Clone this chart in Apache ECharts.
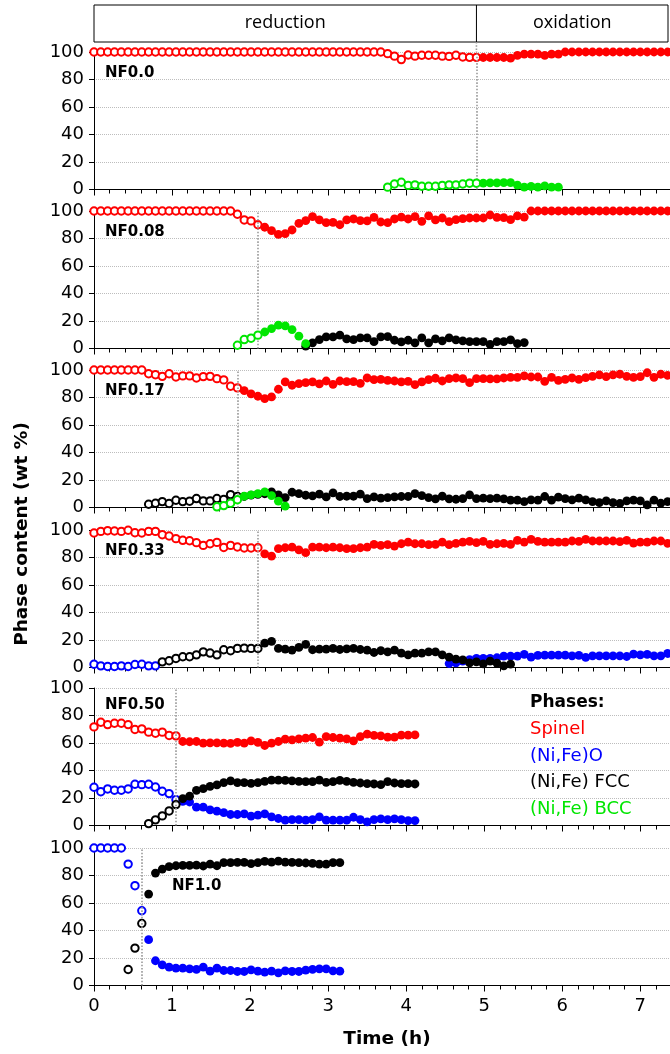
<!DOCTYPE html>
<html>
<head>
<meta charset="utf-8">
<script src="https://cdn.jsdelivr.net/npm/echarts@6/dist/echarts.min.js"></script>
<style>
html, body { margin: 0; padding: 0; background: #fff; }
#chart-container { width: 670px; height: 1054px; }
</style>
</head>
<body>
<div id="chart-container"></div>
<script>
// sampling interval of the in-situ scans (h); data points are listed from a start scan index
var DT = 0.0875;

var panelNames = ['NF0.0', 'NF0.08', 'NF0.17', 'NF0.33', 'NF0.50', 'NF1.0'];
// time where the open symbols stop (h)
var switchTimes = [4.9, 2.1, 1.84, 2.1, 1.05, 0.61];
var xTicks = [0, 1, 2, 3, 4, 5, 6, 7];
var yTicks = [0, 20, 40, 60, 80, 100];
var legendItems = ['Spinel', '(Ni,Fe)O', '(Ni,Fe) FCC', '(Ni,Fe) BCC'];

// ---- NF0.0 ----
var nf00SpinelOpen = [100,100,100,100,100,100,100,100,100,100, 100,100,100,100,100,100,100,100,100,100,
  100,100,100,100,100,100,100,100,100,100, 100,100,100,100,100,100,100,100,100,100, 100,100,100,
  98.8,97,94.5,97.8,97,97.6,97.6,97.6,97,96.8,97.6,96.4,96.1,96.1];
var nf00BccOpen = [1.7,4,5.3,3,3.4,2.4,2.4,2.4,3,3.4,3.4,4,4.6,4.6];
var nf00Spinel = [96,96,96,96,95.5,97.5,98.5,98.5,98.5,97.5,98.5,98.5,
  100,100,100,100,100,100,100,100,100,100,100,100,100,100,100,100];
var nf00Bcc = [4.6,4.8,4.8,5,5,3.2,1.7,2.2,1.7,2.7,1.7,1.7];

// ---- NF0.08 ----
var nf008SpinelOpen = [100,100,100,100,100,100,100,100,100,100, 100,100,100,100,100,100,100,100,100,100, 100,
  97.6,93.5,92.8,90];
var nf008Spinel = [88.2,85.7,83,83.6,86.2,91,93,95.9,93.5,91.5, 91.8,90,93.5,94.2,93,92.8,95.4,92,91.5,94.2,
  95.6,94.2,95.9,92.5,96.4,93.5,94.9,92.3,93.7,94.4, 94.9,94.9,94.9,97.1,95.4,95.2,93.7,96.4,95.6,
  100,100,100,100,100,100,100,100,100,100, 100,100,100,100,100,100,100,100,100,100, 100];
var nf008BccOpen = [2.4,6.5,7.5,9.7];
var nf008Bcc = [12,14.5,17,16.4,13.8,9,3.6];
var nf008Fcc = [1.7,4.1,6.5,8.5,8.5,9.7,7,6.5,7.7,7.7, 5,8.5,8.7,6,4.8,6,4.1,7.7,4.1,7,
  5.6,7.7,6.3,5.6,5,5,5,2.9,5,5, 6.3,3.6,4.3];

// ---- NF0.17 ----
var nf017SpinelOpen = [100,100,100,100,100,100,100,100,97.3,96.6, 95.4,97.3,94.9,95.7,95.7,94.2,95.2,95.4,93.7,92.8,
  88.2,87];
var nf017Spinel = [85,82.6,80.9,79.2,80.4,86,91.3,88.9,90.1,90.8, 91.3,89.9,92,89.6,92,91.5,91.5,90.3,94.2,93,
  93.2,92.5,92,91.3,91.8,89.4,91.3,93,94,92, 93.7,94.2,93.7,90.8,93.7,93.7,93.5,93.5,94.2,94.7,
  94.7,95.7,94.9,94.9,91.8,94.7,92.5,93.2,94.2,93.2, 94.4,95.4,96.4,95.2,96.4,96.9,95.4,94.7,95.2,98,
  94.7,96.9,96.1];
var nf017FccOpen = [2.4,3.1,4.3,2.9,5.3,4.3,4.6,6.5,4.8,4.8, 6.5,5.8,9.4,8];
var nf017Fcc = [8,9,9.5,10,11.4,9.2,7.2,11.1,10.1,8.9, 8.5,9.7,7.7,10.6,8,8.2,8.2,9.7,6.5,7.7,
  6.8,7.2,7.7,8,8,10.1,8.7,7.2,6.3,8.2, 6.3,6,6.5,9.2,6.5,6.8,6.5,6.8,6.3,5.3,
  5.3,4.3,5.6,5.3,8,5.3,7.5,6.5,5.6,6.8, 5.6,4.3,3.6,4.8,3.6,2.9,4.8,5.3,4.8,1.9,
  5.3,3.1,4.3];
var nf017BccOpen = [0.5,1.4,3.1,5.6];
var nf017Bcc = [8.2,9.2,10.1,11.4,8.7,4.6,1];

// ---- NF0.33 ----
var nf033SpinelOpen = [97.8,99,99.5,99.3,99,99.8,98,97.8,99,99, 96.6,95.6,93.7,92.5,92.2,90.8,88.8,90,91,87.3,
  88.8,87.6,86.9,86.9,87.1];
var nf033Spinel = [82.7,81,86.4,87.1,87.6,85.6,83.5,87.6,87.6,87.1, 87.6,87.1,86.4,86.4,87.1,87.6,89.5,
  88.8,89.3,88.3,90,91.2,90,90,89.3,89.5,91.2, 89.3,90.3,91.2,91.7,90.8,91.7,89.5,90,90.3,89.5,
  92.5,91.2,93.2,91.7,91.2,91.2,91.2,91.2,92,91.7, 93.2,92,92,92,92,91.5,92.5,90.5,91.2,91.2,
  92,92,90.3];
var nf033OxideOpen = [2.4,1.2,0.7,0.7,1.2,0.7,2.2,2.4,1.2,1.2];
var nf033FccOpen = [4.1,4.9,6.6,7.8,7.8,9.2,11.4,10.5,9.2,12.9, 12.2,13.9,14.1,13.9,13.9];
var nf033Fcc = [17.8,19,13.9,13.4,12.7,14.6,16.8,12.9,13.4,13.4, 13.9,13.1,13.6,13.9,13.1,12.7,10.9,
  12.2,11.4,12.7,10.5,9.2,10.5,10.5,11.4,11.4,9.2, 7.5,6.1,5.6,3.4,4.1,2.7,4.6,3.2,1.2,2.4];
var nf033Oxide = [2.9,3.4,4.6,5.8,6.6,6.6,6.6,7.1,8.3,8.3, 8.3,9.5,7.5,8.8,9,9,9,9,8.5,8.8,
  7.3,8.5,8.5,8.5,8.5,8.5,8,9.7,9.2,9.5, 8.5,8.5,10.2];

// ---- NF0.50 ----
var nf050SpinelOpen = [71.7,75.1,73.4,74.4,74.4,73.4,69.8,70.3,67.9,67.1, 67.9,65.5,65.2];
var nf050Spinel = [61.1,60.9,61.1,59.9,60.1,60.1,59.9,59.7,60.4,59.9, 61.6,60.4,58.2,59.9,61.1,62.8,62.3,63,63.5,64,
  60.6,64.7,64,63.5,63,61.6,64.7,66.4,65.5,65.2, 64.3,64.3,65.7,65.7,65.9];
var nf050OxideOpen = [27.8,24.6,26.6,25.6,25.6,26.6,30,29.7,30,28, 24.9,23.2,18.8];
var nf050Oxide = [17.6,17.1,13.3,13.3,11.4,10.4,9.4,8,8,8.5, 6.8,7.5,8.5,6.3,5.1,3.9,4.3,4.3,3.9,4.3,
  6.3,3.9,3.9,3.9,3.9,6,4.3,2.7,4.3,4.8, 4.3,4.8,4.3,3.6,3.6];
var nf050FccOpen = [1.4,4.1,7,10.6,15.2];
var nf050Fcc = [19.6,21.3,25.6,26.8,28.5,29.5,31.2,32.4,31.2,31.2, 30.7,31.2,32.1,33,33,32.8,32.4,32.1,31.9,31.9,
  33,31.4,31.9,32.8,32.1,31.4,30.9,30.4,30.2,29.7, 31.9,30.9,30.4,30.4,30.2];

// ---- NF1.0 ----
var nf10OxideOpen = [100,100,100,100,100,88.3,72.6,54.4];
var nf10FccOpen = [11.6,27.2,45.1];
var nf10Fcc = [66.5,81.8,84.7,86.4,87.1,87.4,87.4,87.6,86.9,88.3, 87.1,89.3,89.3,89.6,89.6,88.6,89.3,90.3,89.8,90.5,
  89.8,89.6,89.3,89.1,88.8,88.3,88.3,89.3,89.3];
var nf10Oxide = [33.3,18,15,13.3,12.6,12.6,12.1,11.7,13.3,10.4, 12.6,10.9,10.9,10.2,10.2,11.4,10.4,9.7,10.4,9.2,
  10.7,10.2,10.2,11.2,11.7,12.1,12.1,10.7,10.4];

var RED = '#ff0000', BLUE = '#0000ff', BLACK = '#000000', GREEN = '#00e600';

// [panel, values, first scan index, colour, filled]
var seriesDefs = [
  [0, nf00SpinelOpen, 0, RED, false], [0, nf00Spinel, 57, RED, true],
  [0, nf00BccOpen, 43, GREEN, false], [0, nf00Bcc, 57, GREEN, true],

  [1, nf008SpinelOpen, 0, RED, false], [1, nf008Spinel, 25, RED, true],
  [1, nf008Fcc, 31, BLACK, true],
  [1, nf008BccOpen, 21, GREEN, false], [1, nf008Bcc, 25, GREEN, true],

  [2, nf017SpinelOpen, 0, RED, false], [2, nf017Spinel, 22, RED, true],
  [2, nf017FccOpen, 8, BLACK, false], [2, nf017Fcc, 22, BLACK, true],
  [2, nf017BccOpen, 18, GREEN, false], [2, nf017Bcc, 22, GREEN, true],

  [3, nf033SpinelOpen, 0, RED, false], [3, nf033Spinel, 25, RED, true],
  [3, nf033OxideOpen, 0, BLUE, false], [3, nf033Oxide, 52, BLUE, true],
  [3, nf033FccOpen, 10, BLACK, false], [3, nf033Fcc, 25, BLACK, true],

  [4, nf050SpinelOpen, 0, RED, false], [4, nf050Spinel, 13, RED, true],
  [4, nf050OxideOpen, 0, BLUE, false], [4, nf050Oxide, 13, BLUE, true],
  [4, nf050FccOpen, 8, BLACK, false], [4, nf050Fcc, 13, BLACK, true],

  [5, nf10OxideOpen, 0, BLUE, false], [5, nf10Oxide, 8, BLUE, true],
  [5, nf10FccOpen, 5, BLACK, false], [5, nf10Fcc, 8, BLACK, true]
];

function pts(i0, vals) {
  return vals.map(function (v, k) { return [+((i0 + k) * DT).toFixed(4), v]; });
}

var FONT = 'DejaVu Sans';
var gridTops = [52, 211, 370, 530, 688, 848];
var GRID_H = 137.5;
var XMAX = 7.38;

var dom = document.getElementById('chart-container');
var myChart = echarts.init(dom, null, { renderer: 'canvas' });

var grids = [], xAxes = [], yAxes = [], series = [];
gridTops.forEach(function (top, p) {
  grids.push({ left: 94, width: 576, top: top, height: GRID_H });
  xAxes.push({
    type: 'value', gridIndex: p, min: 0, max: XMAX, interval: 1,
    axisLine: { lineStyle: { color: '#000', width: 1 } },
    axisTick: { show: true, length: 6, lineStyle: { color: '#000' } },
    minorTick: { show: true, splitNumber: 5, length: 4, lineStyle: { color: '#000' } },
    splitLine: { show: false },
    axisLabel: {
      show: p === 5, showMaxLabel: false, margin: 12,
      fontFamily: FONT, fontSize: 18, color: '#000',
      formatter: function (v) { return xTicks.indexOf(v) >= 0 ? String(v) : ''; }
    }
  });
  yAxes.push({
    type: 'value', gridIndex: p, min: 0, max: 100, interval: 20,
    axisLine: { show: true, lineStyle: { color: '#000', width: 1 } },
    axisTick: { show: true, length: 5, lineStyle: { color: '#000' } },
    splitLine: { show: true, lineStyle: { color: '#bdbdbd', type: 'dotted', width: 1 } },
    axisLabel: {
      margin: 10, fontFamily: FONT, fontSize: 18, color: '#000',
      formatter: function (v) { return yTicks.indexOf(v) >= 0 ? String(v) : ''; }
    }
  });
  // dotted marker line where the symbols change from open to filled
  series.push({
    type: 'line', xAxisIndex: p, yAxisIndex: p, data: [], silent: true, z: 1,
    markLine: {
      silent: true, symbol: ['none', 'none'], animation: false,
      label: { show: false },
      lineStyle: { color: '#9a9a9a', type: 'dotted', width: 1.6 },
      data: [{ xAxis: switchTimes[p] }]
    }
  });
});

var zByColor = {};
zByColor[RED] = 2; zByColor[BLUE] = 3; zByColor[BLACK] = 4; zByColor[GREEN] = 5;

seriesDefs.forEach(function (d) {
  var filled = d[4];
  series.push({
    type: 'scatter', xAxisIndex: d[0], yAxisIndex: d[0],
    data: pts(d[2], d[1]),
    symbol: filled ? 'circle' : 'emptyCircle',
    symbolSize: filled ? 8.8 : 7.4,
    itemStyle: { color: d[3], borderColor: d[3], borderWidth: filled ? 0 : 1.1, opacity: 1 },
    z: zByColor[d[3]],
    silent: true
  });
});

var option = {
  animation: false,
  backgroundColor: '#fff',
  grid: grids,
  xAxis: xAxes,
  yAxis: yAxes,
  series: series
};
myChart.setOption(option);

// annotations positioned from the axes
var x0 = myChart.convertToPixel({ xAxisIndex: 0 }, 0);
var xSw = myChart.convertToPixel({ xAxisIndex: 0 }, switchTimes[0]);
var xEnd = myChart.convertToPixel({ xAxisIndex: 0 }, XMAX) - 2;
var graphic = [
  { type: 'rect', shape: { x: x0, y: 5, width: xEnd - x0, height: 37 },
    style: { fill: '#fff', stroke: '#000', lineWidth: 1 } },
  { type: 'line', shape: { x1: xSw, y1: 5, x2: xSw, y2: 42 }, style: { stroke: '#000', lineWidth: 1 } },
  { type: 'line', shape: { x1: xSw, y1: 42, x2: xSw, y2: gridTops[0] },
    style: { stroke: '#9a9a9a', lineWidth: 1.6, lineDash: [1.6, 1.6] } },
  { type: 'text', x: (x0 + xSw) / 2, y: 23,
    style: { text: 'reduction', fontFamily: 'Open Sans', fontSize: 18, fill: '#000', textAlign: 'center', textVerticalAlign: 'middle' } },
  { type: 'text', x: (xSw + xEnd) / 2, y: 23,
    style: { text: 'oxidation', fontFamily: 'Open Sans', fontSize: 18, fill: '#000', textAlign: 'center', textVerticalAlign: 'middle' } },
  { type: 'text', x: 22, y: 534, rotation: Math.PI / 2,
    style: { text: 'Phase content (wt %)', fontFamily: FONT, fontWeight: 'bold', fontSize: 18.5, fill: '#000', textAlign: 'center', textVerticalAlign: 'middle' } },
  { type: 'text', x: 387, y: 1039,
    style: { text: 'Time (h)', fontFamily: FONT, fontWeight: 'bold', fontSize: 18.5, fill: '#000', textAlign: 'center', textVerticalAlign: 'middle' } }
];

panelNames.forEach(function (name, p) {
  var last = p === 5;
  graphic.push({
    type: 'text',
    x: last ? 172 : 105,
    y: last ? 886 : gridTops[p] + (p === 4 ? 17 : 21),
    style: { text: name, fontFamily: FONT, fontWeight: 'bold', fontSize: 15, fill: '#000', textVerticalAlign: 'middle' }
  });
});

var legendColors = [RED, BLUE, BLACK, GREEN];
graphic.push({ type: 'text', x: 530, y: 703,
  style: { text: 'Phases:', fontFamily: FONT, fontWeight: 'bold', fontSize: 17, fill: '#000', textVerticalAlign: 'middle' } });
legendItems.forEach(function (t, k) {
  graphic.push({ type: 'text', x: 530, y: 729.5 + k * 26.5,
    style: { text: t, fontFamily: FONT, fontSize: 18, fill: legendColors[k], textVerticalAlign: 'middle' } });
});

myChart.setOption({ graphic: graphic });

window.addEventListener('resize', myChart.resize);
</script>
</body>
</html>
